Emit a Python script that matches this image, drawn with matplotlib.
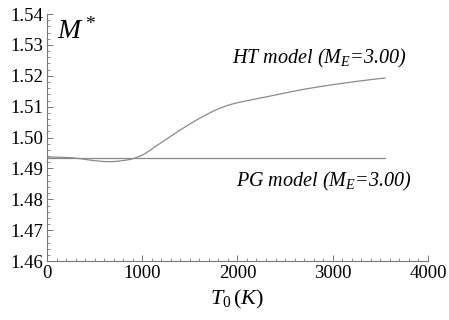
import matplotlib
matplotlib.use("Agg")
import matplotlib.pyplot as plt
import numpy as np
from matplotlib.ticker import MultipleLocator

# Data
ht_T = [0, 250, 450, 650, 850, 976, 1186, 1396, 1605, 1815, 1973, 2130, 2445, 2655, 2970, 3550]
ht_M = [1.4937, 1.4935, 1.4927, 1.4922, 1.4928, 1.4940, 1.4981, 1.5024, 1.5063, 1.5095, 1.5111, 1.5121, 1.5141, 1.5154, 1.5170, 1.5193]
pg_T = [0, 3550]
pg_M = [1.4935, 1.4935]

xticks = [0, 1000, 2000, 3000, 4000]
yticks = [1.46, 1.47, 1.48, 1.49, 1.50, 1.51, 1.52, 1.53, 1.54]

plt.rcParams['font.family'] = ['Liberation Serif', 'DejaVu Serif']
plt.rcParams['mathtext.fontset'] = 'custom'
plt.rcParams['mathtext.it'] = 'Liberation Serif:italic'
plt.rcParams['mathtext.rm'] = 'Liberation Serif'

fig = plt.figure(figsize=(4.49, 3.2), dpi=100)
ax = fig.add_axes([0.1047, 0.184, 0.953 - 0.1047, 0.956 - 0.184])

xs = np.linspace(ht_T[0], ht_T[-1], 400)
try:
    from scipy.interpolate import PchipInterpolator
    ys = PchipInterpolator(ht_T, ht_M)(xs)
except Exception:
    ys = np.interp(xs, ht_T, ht_M)
ax.plot(xs, ys, color='#8a8a8a', lw=0.9)
ax.plot(pg_T, pg_M, color='#8a8a8a', lw=0.9)

ax.set_xlim(0, 4000)
ax.set_ylim(1.46, 1.54)
ax.set_xticks(xticks)
ax.set_yticks(yticks)
ax.set_xticklabels([str(t) for t in xticks])
ax.set_yticklabels([f"{t:.2f}" for t in yticks])
ax.xaxis.set_minor_locator(MultipleLocator(100))
ax.yaxis.set_minor_locator(MultipleLocator(0.002))
for s in ['top', 'right']:
    ax.spines[s].set_visible(False)
for s in ['left', 'bottom']:
    ax.spines[s].set_color('#777777')
    ax.spines[s].set_linewidth(0.8)
ax.tick_params(which='major', direction='in', length=4, width=0.7, color='#777777', labelsize=13.5, pad=3)
ax.tick_params(which='minor', direction='in', length=2.5, width=0.6, color='#777777')

ax.text(110, 1.5345, r'$M^*$', fontsize=20, ha='left', va='center')
ax.text(1940, 1.5257, r'HT model ($M_E$=3.00)', fontsize=14.5, style='italic', ha='left', va='center')
ax.text(1980, 1.4857, r'PG model ($M_E$=3.00)', fontsize=14.5, style='italic', ha='left', va='center')
ax.set_xlabel(r'$T_{\mathrm{0}}\,(K)$', fontsize=16, labelpad=4)

fig.savefig('out.png', dpi=100)
